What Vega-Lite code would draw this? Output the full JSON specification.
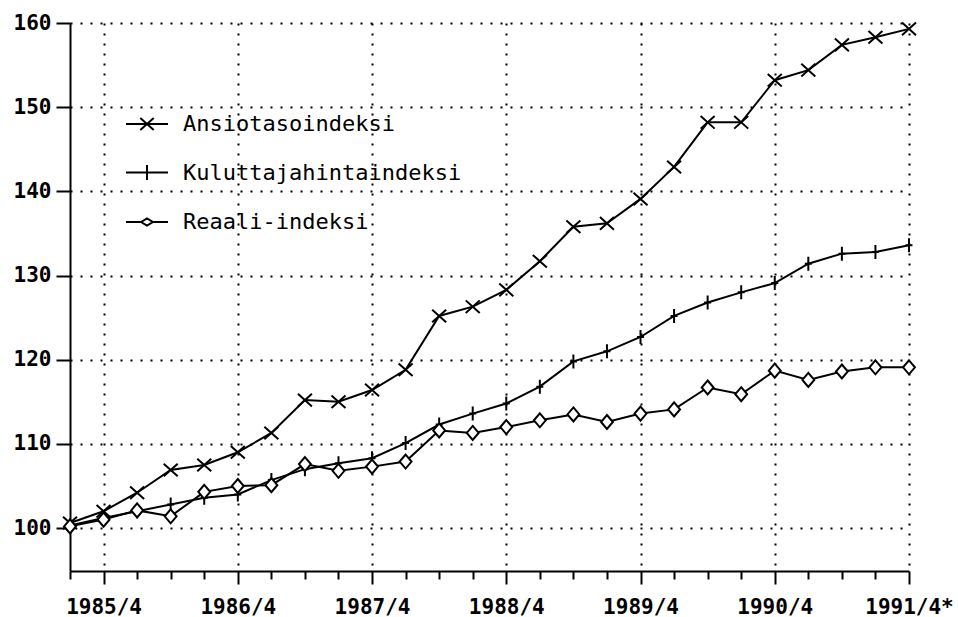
{
  "$schema": "https://vega.github.io/schema/vega-lite/v6.json",
  "width": 839,
  "height": 548,
  "autosize": "none",
  "padding": {"left": 70, "top": 23, "right": 49, "bottom": 46},
  "background": "white",
  "config": {"view": {"stroke": null}, "font": "DejaVu Sans Mono"},
  "data": {
    "values": [
      {"p": "1985/1", "Ansiotasoindeksi": 100.6, "Kuluttajahintaindeksi": 100.3, "Reaali-indeksi": 100.2},
      {"p": "1985/4", "Ansiotasoindeksi": 102.0, "Kuluttajahintaindeksi": 101.2, "Reaali-indeksi": 101.0},
      {"p": "1985/7", "Ansiotasoindeksi": 104.2, "Kuluttajahintaindeksi": 102.0, "Reaali-indeksi": 102.1},
      {"p": "1985/10", "Ansiotasoindeksi": 106.9, "Kuluttajahintaindeksi": 102.8, "Reaali-indeksi": 101.4},
      {"p": "1986/1", "Ansiotasoindeksi": 107.5, "Kuluttajahintaindeksi": 103.6, "Reaali-indeksi": 104.3},
      {"p": "1986/4", "Ansiotasoindeksi": 109.0, "Kuluttajahintaindeksi": 104.0, "Reaali-indeksi": 105.0},
      {"p": "1986/7", "Ansiotasoindeksi": 111.3, "Kuluttajahintaindeksi": 105.7, "Reaali-indeksi": 105.1},
      {"p": "1986/10", "Ansiotasoindeksi": 115.2, "Kuluttajahintaindeksi": 107.0, "Reaali-indeksi": 107.6},
      {"p": "1987/1", "Ansiotasoindeksi": 115.0, "Kuluttajahintaindeksi": 107.7, "Reaali-indeksi": 106.8},
      {"p": "1987/4", "Ansiotasoindeksi": 116.4, "Kuluttajahintaindeksi": 108.3, "Reaali-indeksi": 107.3},
      {"p": "1987/7", "Ansiotasoindeksi": 118.8, "Kuluttajahintaindeksi": 110.1, "Reaali-indeksi": 107.9},
      {"p": "1987/10", "Ansiotasoindeksi": 125.2, "Kuluttajahintaindeksi": 112.3, "Reaali-indeksi": 111.6},
      {"p": "1988/1", "Ansiotasoindeksi": 126.3, "Kuluttajahintaindeksi": 113.6, "Reaali-indeksi": 111.3},
      {"p": "1988/4", "Ansiotasoindeksi": 128.3, "Kuluttajahintaindeksi": 114.8, "Reaali-indeksi": 112.0},
      {"p": "1988/7", "Ansiotasoindeksi": 131.7, "Kuluttajahintaindeksi": 116.8, "Reaali-indeksi": 112.8},
      {"p": "1988/10", "Ansiotasoindeksi": 135.8, "Kuluttajahintaindeksi": 119.8, "Reaali-indeksi": 113.5},
      {"p": "1989/1", "Ansiotasoindeksi": 136.2, "Kuluttajahintaindeksi": 121.0, "Reaali-indeksi": 112.6},
      {"p": "1989/4", "Ansiotasoindeksi": 139.1, "Kuluttajahintaindeksi": 122.7, "Reaali-indeksi": 113.6},
      {"p": "1989/7", "Ansiotasoindeksi": 142.9, "Kuluttajahintaindeksi": 125.2, "Reaali-indeksi": 114.1},
      {"p": "1989/10", "Ansiotasoindeksi": 148.2, "Kuluttajahintaindeksi": 126.8, "Reaali-indeksi": 116.7},
      {"p": "1990/1", "Ansiotasoindeksi": 148.2, "Kuluttajahintaindeksi": 128.0, "Reaali-indeksi": 115.9},
      {"p": "1990/4", "Ansiotasoindeksi": 153.2, "Kuluttajahintaindeksi": 129.1, "Reaali-indeksi": 118.7},
      {"p": "1990/7", "Ansiotasoindeksi": 154.4, "Kuluttajahintaindeksi": 131.4, "Reaali-indeksi": 117.6},
      {"p": "1990/10", "Ansiotasoindeksi": 157.4, "Kuluttajahintaindeksi": 132.6, "Reaali-indeksi": 118.6},
      {"p": "1991/1", "Ansiotasoindeksi": 158.3, "Kuluttajahintaindeksi": 132.8, "Reaali-indeksi": 119.1},
      {"p": "1991/4*", "Ansiotasoindeksi": 159.3, "Kuluttajahintaindeksi": 133.6, "Reaali-indeksi": 119.1}
    ]
  },
  "transform": [
    {"fold": ["Ansiotasoindeksi", "Kuluttajahintaindeksi", "Reaali-indeksi"], "as": ["series", "value"]}
  ],
  "encoding": {
    "x": {
      "field": "p",
      "type": "ordinal",
      "sort": null,
      "scale": {"type": "point", "padding": 0},
      "axis": {
        "title": null,
        "labelAngle": 0,
        "domainColor": "black",
        "domainWidth": 2,
        "tickColor": "black",
        "tickWidth": 2,
        "tickSize": {"condition": {"test": "indexof(datum.value, '/4') > 0", "value": 13}, "value": 8},
        "labelExpr": "indexof(datum.value, '/4') > 0 ? datum.value : ''",
        "labelFont": "DejaVu Sans Mono",
        "labelFontWeight": "bold",
        "labelFontSize": 21,
        "labelColor": "black",
        "labelPadding": 12,
        "labelOverlap": false,
        "grid": true,
        "gridColor": "black",
        "gridWidth": 2,
        "gridDash": [2, 8],
        "gridOpacity": {"condition": {"test": "indexof(datum.value, '/4') > 0", "value": 1}, "value": 0}
      }
    },
    "y": {
      "field": "value",
      "type": "quantitative",
      "scale": {"domain": [94.9, 160], "nice": false, "zero": false},
      "axis": {
        "title": null,
        "values": [100, 110, 120, 130, 140, 150, 160],
        "domainColor": "black",
        "domainWidth": 2,
        "tickColor": "black",
        "tickWidth": 2,
        "tickSize": 14,
        "labelPadding": 5,
        "labelFont": "DejaVu Sans Mono",
        "labelFontWeight": "bold",
        "labelFontSize": 21,
        "labelColor": "black",
        "grid": true,
        "gridColor": "black",
        "gridWidth": 2,
        "gridDash": [2, 8]
      }
    }
  },
  "layer": [
    {
      "mark": {"type": "line", "color": "black", "strokeWidth": 2},
      "encoding": {"detail": {"field": "series"}}
    },
    {
      "mark": {"type": "point", "filled": true, "fill": "white", "stroke": "black", "strokeWidth": 2, "size": 196, "opacity": 1},
      "encoding": {
        "shape": {
          "field": "series",
          "type": "nominal",
          "scale": {"range": ["M-1,-0.9L1,0.9M-1,0.9L1,-0.9", "M0,-1L0,1M-0.5,0L0.5,0", "M0,-1L0.85,0L0,1L-0.85,0Z"]},
          "legend": null
        }
      }
    },
    {
      "transform": [{"filter": "false"}],
      "mark": {"type": "point", "filled": false, "color": "black", "strokeWidth": 2},
      "encoding": {
        "shape": {
          "field": "series",
          "type": "nominal",
          "scale": {
            "domain": ["Ansiotasoindeksi", "Kuluttajahintaindeksi", "Reaali-indeksi"],
            "range": ["M-1,0L1,0M-0.32,-0.28L0.32,0.28M-0.32,0.28L0.32,-0.28", "M-1,0L1,0M0,-0.36L0,0.36", "M-1,0L-0.28,0M0.28,0L1,0M-0.28,0L0,-0.17L0.28,0L0,0.17Z"]
          },
          "legend": {
            "title": null,
            "orient": "none",
            "legendX": 55,
            "legendY": 79,
            "direction": "vertical",
            "padding": 0,
            "symbolSize": 1764,
            "symbolStrokeWidth": 2,
            "symbolStrokeColor": "black",
            "symbolOpacity": 1,
            "labelFont": "DejaVu Sans Mono",
            "labelFontSize": 22,
            "labelColor": "black",
            "labelOffset": 14,
            "labelLimit": 0,
            "rowPadding": 15.5
          }
        }
      }
    }
  ],
  "resolve": {"scale": {"shape": "independent"}, "legend": {"shape": "independent"}}
}
